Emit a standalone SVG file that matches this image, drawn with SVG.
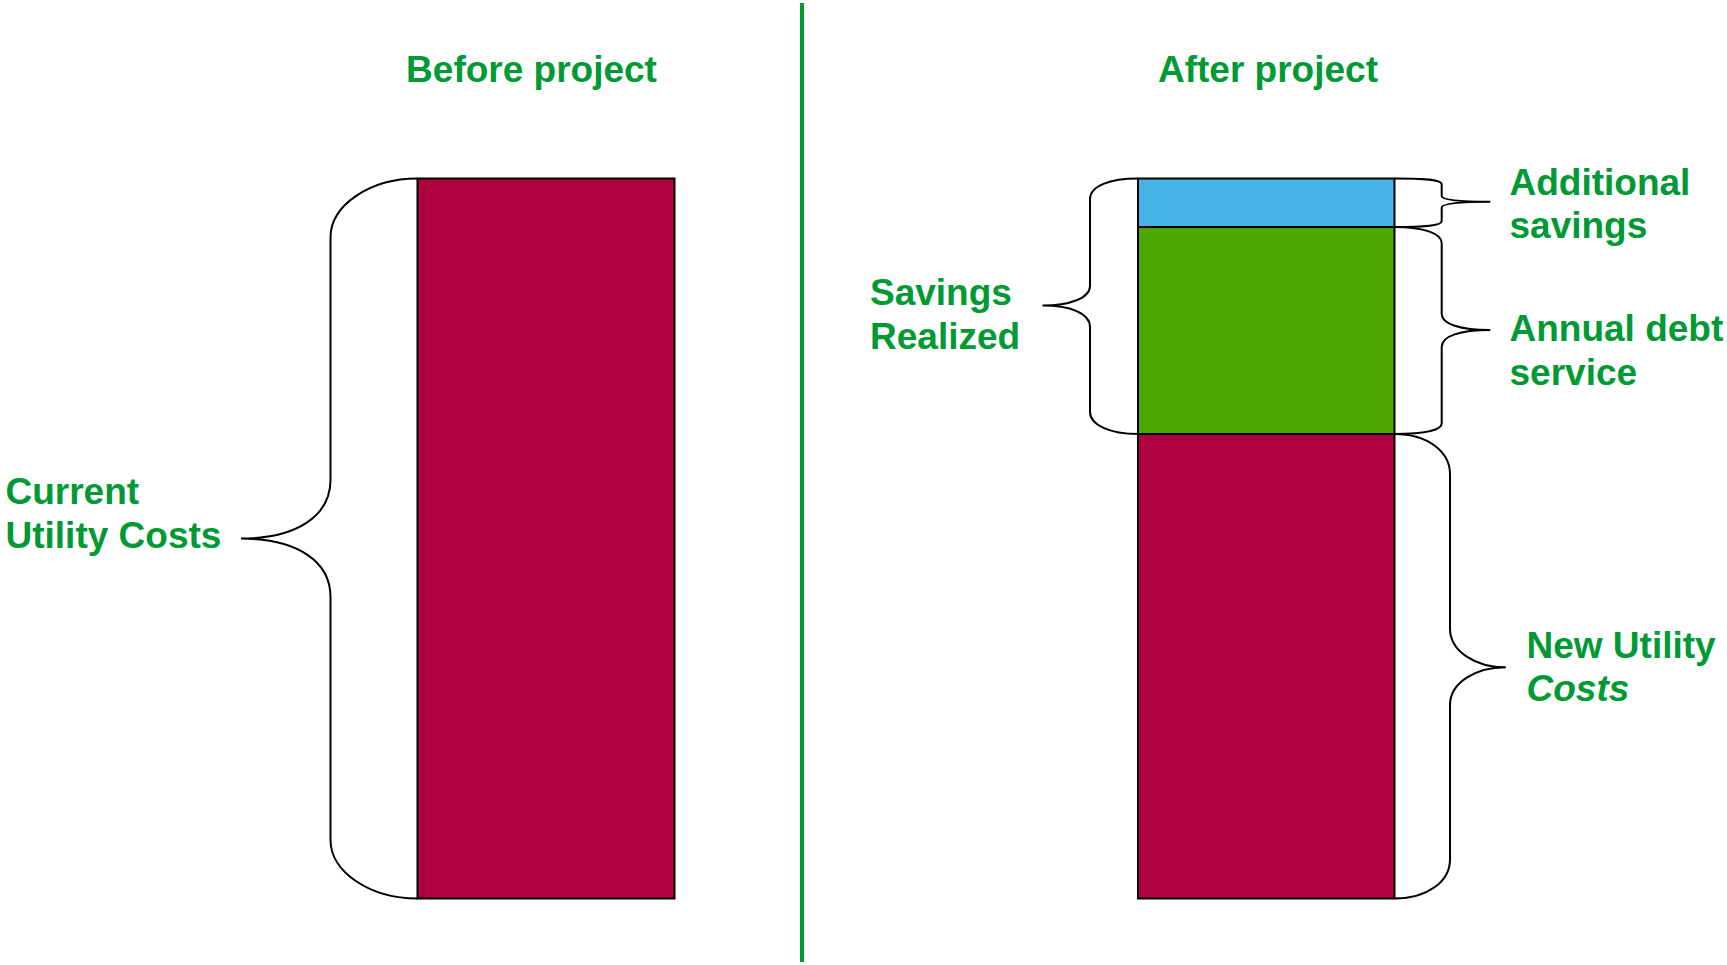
<svg xmlns="http://www.w3.org/2000/svg" width="1727" height="965" viewBox="0 0 1727 965">
<style>
.t{font-family:"Liberation Sans",Arial,sans-serif;font-weight:bold;font-size:37px;fill:#009933}
.bar{stroke:#000;stroke-width:2}
.br{fill:none;stroke:#000;stroke-width:2}
</style>
<rect width="1727" height="965" fill="#fff"/>
<line x1="802" y1="3" x2="802" y2="962" stroke="#009933" stroke-width="4"/>
<g id="title-before"><text class="t" x="531.5" y="81.5" text-anchor="middle">Before project</text></g>
<g id="title-after"><text class="t" x="1268" y="81.5" text-anchor="middle">After project</text></g>
<g id="bar-before"><rect class="bar" x="417.5" y="178.5" width="257" height="720" fill="#AF0040"/></g>
<g id="bar-after-new-costs"><rect class="bar" x="1138" y="434" width="256.5" height="464.5" fill="#AF0040"/></g>
<g id="bar-after-debt"><rect class="bar" x="1138" y="227" width="256.5" height="207" fill="#4EA600"/></g>
<g id="bar-after-additional"><rect class="bar" x="1138" y="178.5" width="256.5" height="48.5" fill="#45B3E5"/></g>
<g id="connectors">
<path class="br" d="M417.5,178.5 C370,178.5 330.5,205 330.5,237.5 L330.5,480 C330.5,515 298,538.6 241,538.6 C298,538.6 330.5,562 330.5,597 L330.5,840 C330.5,872 370,898.5 417.5,898.5"/>
<path class="br" d="M1138,178.5 C1110,178.5 1090,186 1090,199 L1090,286 C1090,298 1070,305.6 1042.5,305.6 C1070,305.6 1090,313 1090,327 L1090,412 C1090,425 1110,434 1138,434"/>
<path class="br" d="M1394.5,178.5 C1430,178.5 1441.7,180 1441.7,184.5 L1441.7,196 C1441.7,200 1460,201.7 1490.3,201.7 C1460,201.7 1441.7,203.5 1441.7,207.6 L1441.7,221 C1441.7,225 1430,227 1394.5,227"/>
<path class="br" d="M1394.5,227 C1425,227 1441.7,234 1441.7,243 L1441.7,314 C1441.7,324 1460,330 1490.3,330 C1460,330 1441.7,336 1441.7,347 L1441.7,423.6 C1441.7,430 1425,434 1394.5,434"/>
<path class="br" d="M1394.5,434 C1428,434 1450,452 1450,474 L1450,628.4 C1450,651 1475,667.3 1505.8,667.3 C1475,667.3 1450,683 1450,705 L1450,859.4 C1450,881 1428,898.5 1394.5,898.5"/>
</g>
<g id="label-current"><text class="t" x="5.5" y="503.5">Current</text><text class="t" x="5.5" y="547.5">Utility Costs</text></g>
<g id="label-savings"><text class="t" x="870" y="304.5">Savings</text><text class="t" x="870" y="348.5">Realized</text></g>
<g id="label-additional"><text class="t" x="1509.5" y="194.5">Additional</text><text class="t" x="1509.5" y="237.5">savings</text></g>
<g id="label-debt"><text class="t" x="1509.5" y="341">Annual debt</text><text class="t" x="1509.5" y="384.5">service</text></g>
<g id="label-new"><text class="t" x="1526.5" y="657.5">New Utility</text><text class="t" x="1526.5" y="701" font-style="italic">Costs</text></g>
</svg>
